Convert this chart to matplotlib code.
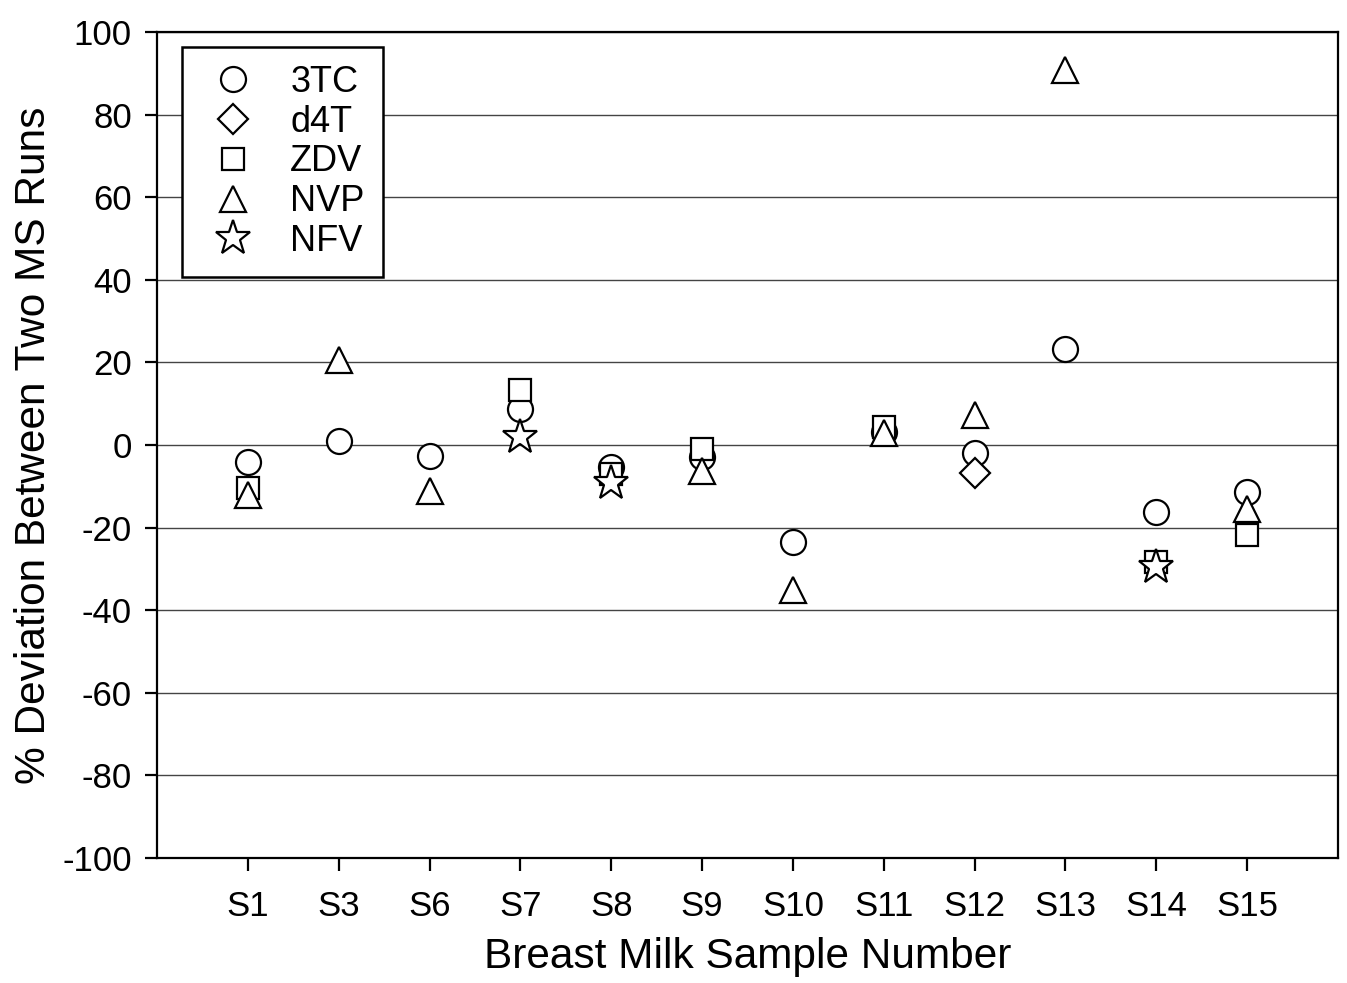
import numpy as np
import matplotlib
matplotlib.use('Agg')
import matplotlib.pyplot as plt

plt.rcParams['font.family'] = ['Liberation Sans', 'DejaVu Sans']
plt.rcParams['axes.unicode_minus'] = False

samples = ['S1', 'S3', 'S6', 'S7', 'S8', 'S9', 'S10', 'S11', 'S12', 'S13', 'S14', 'S15']

# % deviation per drug (nan = not measured)
nan = np.nan
dev_3tc = [-4.0, 1.0, -2.7, 8.6, -5.3, -2.9, -23.4, 3.1, -1.9, 23.2, -16.2, -11.4]
dev_d4t = [nan, nan, nan, nan, nan, nan, nan, nan, -6.7, nan, nan, nan]
dev_zdv = [-10.3, nan, nan, 13.2, -7.1, -1.0, nan, 4.4, nan, nan, -28.3, -21.8]
dev_nvp = [-12.0, 20.7, -11.1, nan, nan, -6.4, -35.2, 3.0, 7.3, 90.8, nan, -15.4]
dev_nfv = [nan, nan, nan, 1.9, -9.2, nan, nan, nan, nan, nan, -29.5, nan]

series = [
    ('3TC', dev_3tc, 'o', 18),
    ('d4T', dev_d4t, 'D', 15.5),
    ('ZDV', dev_zdv, 's', 16.5),
    ('NVP', dev_nvp, '^', 19),
    ('NFV', dev_nfv, '*', 26),
]

fig = plt.figure(figsize=(13.47, 9.83), dpi=100)
ax = fig.add_axes([157 / 1347, 1 - 858 / 983, (1338 - 157) / 1347, (858 - 32) / 983])

x = np.arange(len(samples))
for name, vals, mk, ms in series:
    ax.plot(x, vals, linestyle='none', marker=mk, markersize=ms,
            markerfacecolor='white', markeredgecolor='black',
            markeredgewidth=1.6, label=name, zorder=3)

ax.set_xlim(-1, len(samples))
ax.set_ylim(-100, 100)
ax.set_yticks(np.arange(-100, 101, 20))
ax.set_xticks(x)
ax.set_xticklabels(samples)
ax.yaxis.grid(True, color='#444444', linewidth=1.0)
ax.set_axisbelow(True)

for sp in ax.spines.values():
    sp.set_linewidth(1.6)
ax.tick_params(axis='both', labelsize=25, length=9, width=1.6)
ax.tick_params(axis='y', pad=9)
ax.tick_params(axis='x', pad=14)

ax.set_xlabel('Breast Milk Sample Number', fontsize=30.5, labelpad=10)
ax.set_ylabel('% Deviation Between Two MS Runs', fontsize=30.5, labelpad=6)

leg = ax.legend(loc='upper left', bbox_to_anchor=(0.0212, 0.9818), fontsize=26,
                frameon=True, fancybox=False, edgecolor='black', borderaxespad=0,
                handletextpad=0.67, labelspacing=0.13, borderpad=0.5,
                handlelength=1.83, framealpha=1)
leg.get_frame().set_linewidth(1.8)

fig.savefig('out.png', dpi=100)
